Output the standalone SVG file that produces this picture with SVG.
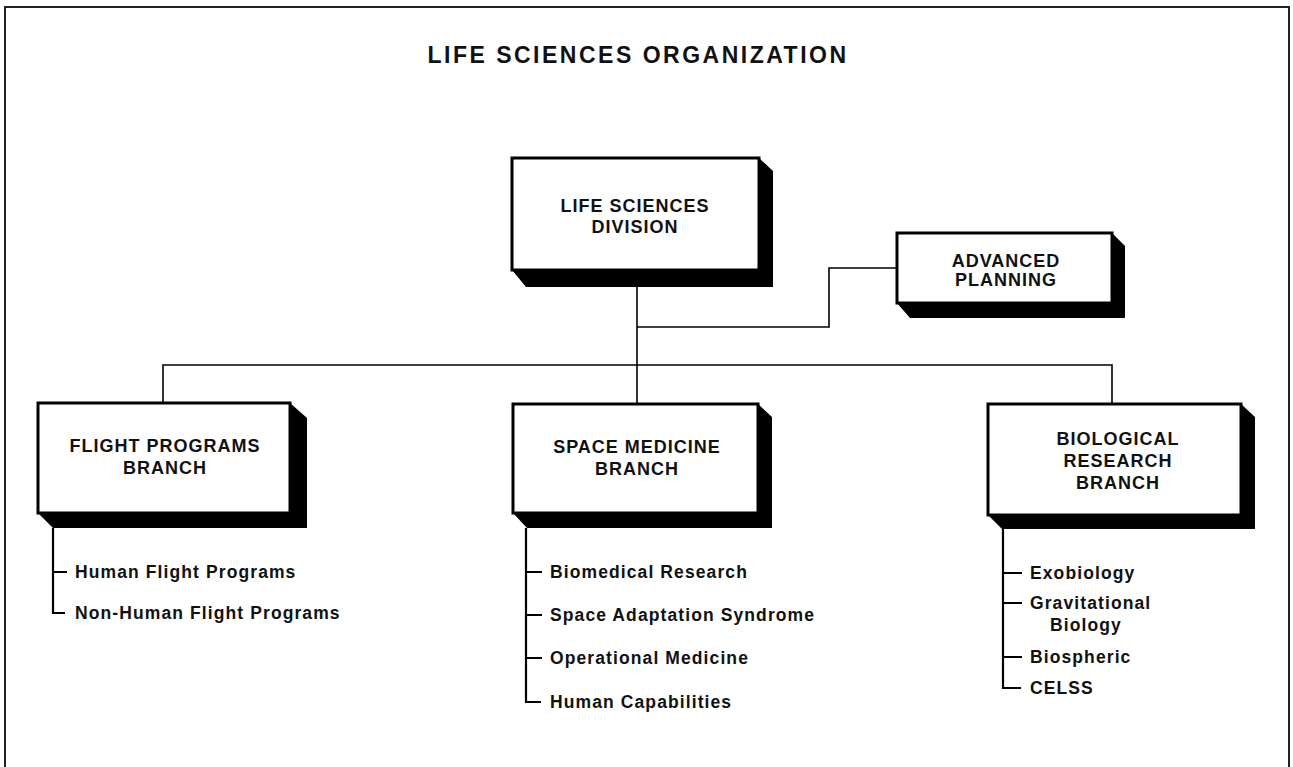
<svg xmlns="http://www.w3.org/2000/svg" width="1293" height="767" viewBox="0 0 1293 767">
<style>
  .face{fill:#fff;stroke:#000;stroke-width:3}
  .shadow{fill:#000}
  .lbl{font-family:"Liberation Sans",Arial,sans-serif;font-weight:bold;font-size:18px;letter-spacing:1px;text-anchor:middle;fill:#111}
  .item{font-family:"Liberation Sans",Arial,sans-serif;font-weight:bold;font-size:17.5px;letter-spacing:1.1px;fill:#111}
  .title{font-family:"Liberation Sans",Arial,sans-serif;font-weight:bold;font-size:23px;letter-spacing:2.5px;text-anchor:middle;fill:#111}
  .conn{fill:none;stroke:#000;stroke-width:1.6}
  .list{fill:none;stroke:#000;stroke-width:2.2}
</style>
<rect width="1293" height="767" fill="#fff"/>
<path d="M5,770 V7 H1289 V770" fill="none" stroke="#222" stroke-width="2"/>
<text class="title" x="638" y="63">LIFE SCIENCES ORGANIZATION</text>

<g id="connectors">
  <path class="conn" d="M637,287 V404"/>
  <path class="conn" d="M637,327 H829 V268 H897"/>
  <path class="conn" d="M163,403 V365 H1112 V404"/>
  <path class="list" d="M53,528 V613 H65 M53,572 H67"/>
  <path class="list" d="M526,528 V702 H541 M526,572 H542 M526,615 H542 M526,658 H542"/>
  <path class="list" d="M1003,529 V688 H1021 M1003,573 H1022 M1003,603 H1022 M1003,657 H1022"/>
</g>

<g id="life-sciences-division">
  <polygon class="shadow" points="759,158 773,171 773,287 526,287 512,270"/>
  <rect class="face" x="512" y="158" width="247" height="112"/>
  <text class="lbl" x="635" y="212">LIFE SCIENCES</text>
  <text class="lbl" x="635" y="233">DIVISION</text>
</g>

<g id="advanced-planning">
  <polygon class="shadow" points="1112,233 1125,246 1125,318 910,318 897,303"/>
  <rect class="face" x="897" y="233" width="215" height="70"/>
  <text class="lbl" x="1006" y="267">ADVANCED</text>
  <text class="lbl" x="1006" y="286">PLANNING</text>
</g>

<g id="flight-programs-branch">
  <polygon class="shadow" points="290,403 307,418 307,528 53,528 38,513"/>
  <rect class="face" x="38" y="403" width="252" height="110"/>
  <text class="lbl" x="165" y="452">FLIGHT PROGRAMS</text>
  <text class="lbl" x="165" y="474">BRANCH</text>
  <text class="item" x="75" y="578">Human Flight Programs</text>
  <text class="item" x="75" y="619">Non-Human Flight Programs</text>
</g>

<g id="space-medicine-branch">
  <polygon class="shadow" points="758,404 772,417 772,528 527,528 513,513"/>
  <rect class="face" x="513" y="404" width="245" height="109"/>
  <text class="lbl" x="637" y="453">SPACE MEDICINE</text>
  <text class="lbl" x="637" y="475">BRANCH</text>
  <text class="item" x="550" y="578">Biomedical Research</text>
  <text class="item" x="550" y="621">Space Adaptation Syndrome</text>
  <text class="item" x="550" y="664">Operational Medicine</text>
  <text class="item" x="550" y="708">Human Capabilities</text>
</g>

<g id="biological-research-branch">
  <polygon class="shadow" points="1241,404 1255,417 1255,529 1002,529 988,515"/>
  <rect class="face" x="988" y="404" width="253" height="111"/>
  <text class="lbl" x="1118" y="445">BIOLOGICAL</text>
  <text class="lbl" x="1118" y="467">RESEARCH</text>
  <text class="lbl" x="1118" y="489">BRANCH</text>
  <text class="item" x="1030" y="579">Exobiology</text>
  <text class="item" x="1030" y="609">Gravitational</text>
  <text class="item" x="1050" y="631">Biology</text>
  <text class="item" x="1030" y="663">Biospheric</text>
  <text class="item" x="1030" y="694">CELSS</text>
</g>
</svg>
